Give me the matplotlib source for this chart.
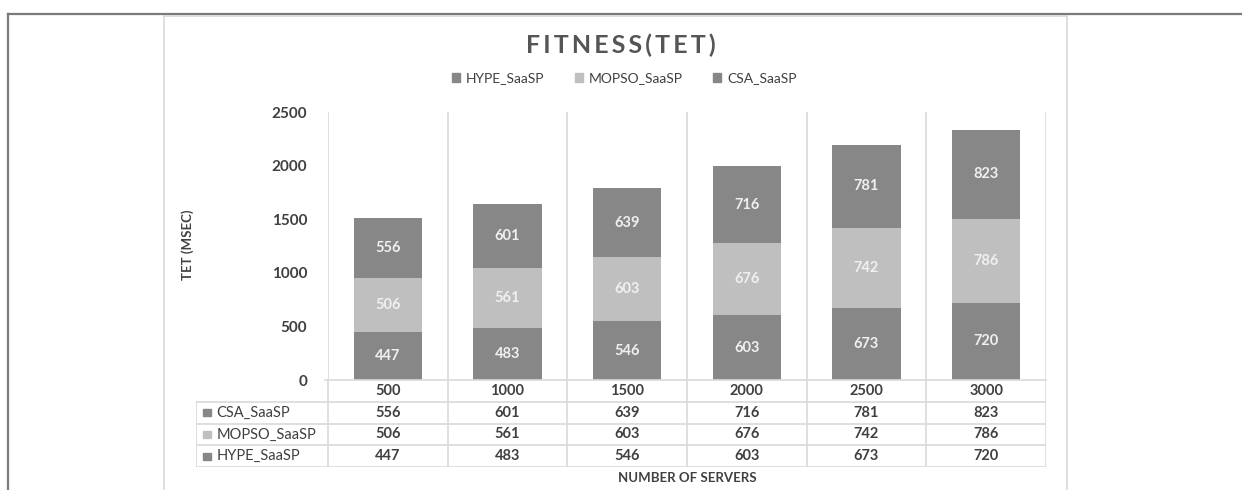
import matplotlib.pyplot as plt
from matplotlib.lines import Line2D
from matplotlib.patches import Rectangle

# data
servers = ["500", "1000", "1500", "2000", "2500", "3000"]
hype = [447, 483, 546, 603, 673, 720]
mopso = [506, 561, 603, 676, 742, 786]
csa = [556, 601, 639, 716, 781, 823]
series_names = ["HYPE_SaaSP", "MOPSO_SaaSP", "CSA_SaaSP"]
y_ticks = [0, 500, 1000, 1500, 2000, 2500]

DARK = "#878787"
LIGHT = "#bfbfbf"
TXT = "#404040"
GRID = "#d9d9d9"
colors = [DARK, LIGHT, DARK]

plt.rcParams["font.family"] = ["Lato", "DejaVu Sans"]

W, H = 1242, 490
fig = plt.figure(figsize=(W / 100, H / 100), dpi=100)


def fx(x):
    return x / W


def fy(y):
    return 1 - y / H


# outer frames
fig.add_artist(Line2D([fx(8), 1], [fy(14.5), fy(14.5)], color="#7a7a7a", lw=1.6))
fig.add_artist(Line2D([fx(8), fx(8)], [fy(14.5), 0], color="#7a7a7a", lw=1.6))
for xx in (163.5, 1066.5):
    fig.add_artist(Line2D([fx(xx), fx(xx)], [fy(16), 0], color=GRID, lw=1.2))
fig.add_artist(Line2D([fx(163.5), fx(1066.5)], [fy(16), fy(16)], color=GRID, lw=1.2))

# main plot area
left, right, top, bottom = 328, 1046, 112, 380
ax = fig.add_axes([fx(left), fy(bottom), fx(right - left), (bottom - top) / H])
ax.set_xlim(-0.5, len(servers) - 0.5)
ax.set_ylim(0, 2500)
for s in ax.spines.values():
    s.set_visible(False)
ax.set_xticks([])
ax.set_yticks(y_ticks)
ax.set_yticklabels([str(t) for t in y_ticks], fontsize=11, fontweight="bold", color=TXT)
ax.tick_params(axis="y", length=0, pad=15)
ax.axhline(0, color=GRID, lw=1.2, xmin=-0.004, clip_on=False)
for i in range(len(servers) + 1):
    ax.axvline(i - 0.5, color=GRID, lw=1.2)

x = range(len(servers))
base = [0] * len(servers)
for vals, c in zip([hype, mopso, csa], colors):
    ax.bar(x, vals, bottom=base, width=0.57, color=c)
    for i, v in enumerate(vals):
        ax.text(i, base[i] + v / 2, str(v), ha="center", va="center",
                fontsize=10.5, fontweight="bold", color="#f0f0f0")
    base = [b + v for b, v in zip(base, vals)]

fig.text(fx(188), fy(245), "TET (MSEC)", rotation=90, ha="center", va="center",
         fontsize=9.5, fontweight="bold", color=TXT)

# data table below the plot
tleft, tbottom = 196, 467
unit = (right - left) / len(servers)
tx = fig.add_axes([fx(tleft), fy(tbottom), fx(right - tleft), (tbottom - bottom) / H])
x0 = -0.5 - (left - tleft) / unit
tx.set_xlim(x0, len(servers) - 0.5)
tx.set_ylim(0, 4)
tx.axis("off")
tlw = 1.2
for i in range(len(servers) + 1):
    tx.plot([i - 0.5, i - 0.5], [0, 4], color=GRID, lw=tlw)
tx.plot([x0, x0], [0, 3], color=GRID, lw=tlw)
for r in range(4):
    tx.plot([x0, len(servers) - 0.5], [r, r], color=GRID, lw=tlw)
for i, s in enumerate(servers):
    tx.text(i, 3.5, s, ha="center", va="center", fontsize=10.5, fontweight="bold", color=TXT)
rows = [("CSA_SaaSP", csa, DARK), ("MOPSO_SaaSP", mopso, LIGHT), ("HYPE_SaaSP", hype, DARK)]
for r, (name, vals, c) in enumerate(rows):
    yc = 2.5 - r
    tx.add_patch(Rectangle((x0 + 0.06, yc - 0.16), 0.065, 0.32, color=c))
    tx.text(x0 + 0.17, yc, name, ha="left", va="center", fontsize=10.5, color=TXT)
    for i, v in enumerate(vals):
        tx.text(i, yc, str(v), ha="center", va="center", fontsize=10.5,
                fontweight="bold", color=TXT)

fig.text(fx(687), fy(478), "NUMBER OF SERVERS", ha="center", va="center",
         fontsize=9.5, fontweight="bold", color=TXT)

# title and legend
fig.text(fx(621), fy(45), "F I T N E S S ( T E T )".replace(" ", "\u2009"),
         ha="center", va="center", fontsize=18, fontweight="bold", color="#555555")
handles = [Rectangle((0, 0), 1, 1, color=c) for c in colors]
fig.legend(handles, series_names, loc="center", bbox_to_anchor=(fx(624), fy(78)),
           ncol=3, frameon=False, fontsize=10, handlelength=0.6, handleheight=0.6,
           handletextpad=0.4, columnspacing=2.2, labelcolor=TXT)

fig.savefig("out.png", dpi=100, facecolor="white")
